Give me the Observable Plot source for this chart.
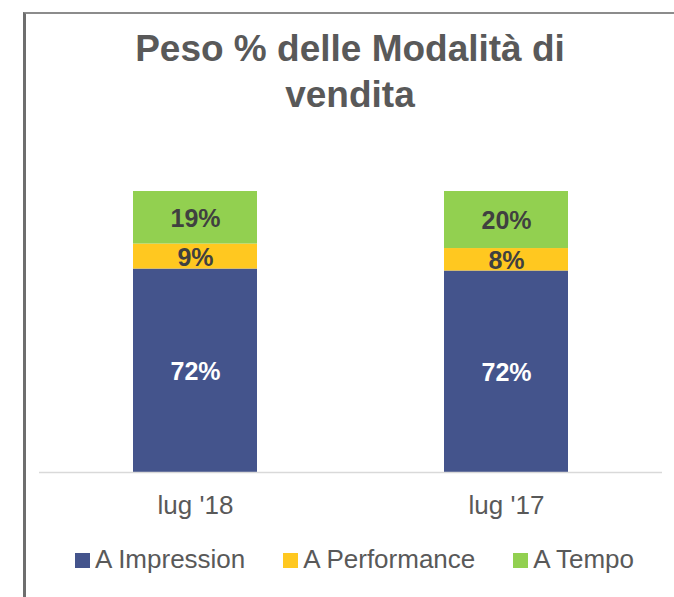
<!DOCTYPE html>
<html><head><meta charset="utf-8">
<script src="https://cdn.jsdelivr.net/npm/d3@7"></script>
<script src="https://cdn.jsdelivr.net/npm/@observablehq/plot@0.6"></script>
<style>
body{margin:0;background:#fff;font-family:"Liberation Sans",Arial,sans-serif;}
#page{position:relative;width:674px;height:597px;overflow:hidden;background:#fff;}
#frame{position:absolute;left:23px;top:12px;width:660px;height:600px;border-left:3px solid #6e6e6e;border-top:2px solid #8c8c8c;box-sizing:border-box;}
#title{position:absolute;left:26px;right:0;top:26px;text-align:center;font-weight:bold;font-size:37px;line-height:46px;color:#595959;}
#chart{position:absolute;left:0;top:140px;}
#legend{position:absolute;left:75px;top:544px;display:flex;align-items:center;font-size:26px;line-height:30px;color:#595959;white-space:nowrap;}
#legend .item{display:flex;align-items:center;margin-right:38px;}
#legend .sw{width:15px;height:15px;margin-right:5px;margin-top:2px;}
</style>
</head><body>
<div id="page">
  <div id="frame"></div>
  <div id="title">Peso % delle Modalità di<br>vendita</div>
  <div id="chart"></div>
  <div id="legend"></div>
</div>
<script>
const categories = ["lug '18", "lug '17"];
const series = ["A Impression", "A Performance", "A Tempo"];
const impression = [72.4, 71.7];
const performance = [8.9, 8.0];
const tempo = [18.7, 20.3];
const colors = ["#44548C", "#FFC820", "#92D050"];

const seriesValues = [impression, performance, tempo];
const data = [];
categories.forEach((c, i) => {
  seriesValues.forEach((arr, j) => data.push({cat: c, series: series[j], value: arr[i]}));
});
const lbl = d => Math.round(d.value) + "%";

const chart = Plot.plot({
  width: 674, height: 390,
  marginTop: 51, marginBottom: 58, marginLeft: 39, marginRight: 12,
  style: {fontFamily: "Liberation Sans, Arial, sans-serif", background: "transparent"},
  x: {domain: categories, paddingInner: 0.6, paddingOuter: 0.3},
  y: {domain: [0, 100], axis: null},
  color: {domain: series, range: colors},
  marks: [
    Plot.barY(data, Plot.stackY({x: "cat", y: "value", fill: "series", order: series})),
    Plot.ruleY([0], {stroke: "#d9d9d9", strokeWidth: 1.5}),
    Plot.text(data, Plot.stackY({x: "cat", y: "value", z: "series", order: series,
      text: d => d.series === series[0] ? lbl(d) : null, fill: "#ffffff", fontSize: 25, fontWeight: "bold", dy: 1})),
    Plot.text(data, Plot.stackY({x: "cat", y: "value", z: "series", order: series,
      text: d => d.series !== series[0] ? lbl(d) : null, fill: "#404040", fontSize: 25, fontWeight: "bold", dy: 1})),
    Plot.axisX({tickSize: 0, tickPadding: 23, fontSize: 26, color: "#595959", label: null})
  ]
});
document.getElementById("chart").appendChild(chart);

const legend = document.getElementById("legend");
series.forEach((s, i) => {
  const it = document.createElement("div");
  it.className = "item";
  const sw = document.createElement("span");
  sw.className = "sw";
  sw.style.background = colors[i];
  const t = document.createElement("span");
  t.textContent = s;
  it.appendChild(sw); it.appendChild(t);
  legend.appendChild(it);
});
</script>
</body></html>
